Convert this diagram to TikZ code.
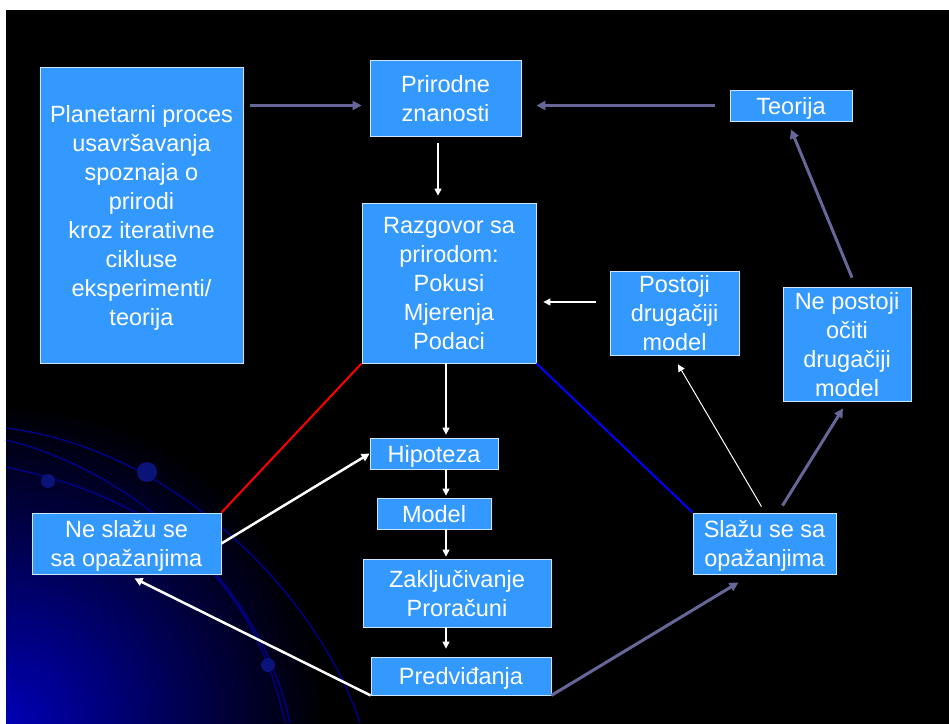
\documentclass[tikz,border=0pt]{standalone}
\usepackage{fontspec}
\setmainfont{Liberation Sans}
\usetikzlibrary{calc, arrows.meta}

\definecolor{boxblue}{RGB}{51,153,255}
\definecolor{arrowgrey}{RGB}{102,102,153}
\definecolor{orbitblue}{RGB}{0,0,130}
\definecolor{dotblue}{RGB}{10,20,120}

\begin{document}
\begin{tikzpicture}[x=1pt, y=-1pt,
   box/.style = {draw=white!75!boxblue, line width=0.8pt, fill=boxblue, text=white,
      align=center, inner sep=0pt, text depth=0pt, font=\fontsize{23.5}{29}\selectfont},
   gflow/.style = {arrowgrey, line width=3pt, -{Triangle[length=9pt, width=9pt]}},
   wflow/.style = {white, line width=1.3pt, -{Triangle[length=7pt, width=7pt]}},
   wthick/.style = {white, line width=2.5pt, -{Triangle[length=8pt, width=8pt]}},
   orbit/.style = {orbitblue, line width=1.5pt}]

   \useasboundingbox (0,0) rectangle (949,723);
   \fill[black] (6,10) rectangle (960,735);
   \begin{scope}
      \clip (6,10) rectangle (960,735);
      \shade[inner color={rgb,255:red,0;green,0;blue,180}, outer color=black] (6,723) circle (320);
   \end{scope}
   \draw[orbit] (6,428) .. controls (180,450) and (320,600) .. (360,723);
   \draw[orbit] (6,440) .. controls (130,470) and (260,580) .. (290,723);
   \draw[orbit] (6,467) .. controls (140,495) and (250,560) .. (285,723);
   \fill[dotblue] (147,472) circle (10);
   \fill[dotblue] (48,481) circle (7);
   \fill[dotblue] (268,665) circle (7);

   \node[box, minimum width=203pt, minimum height=296pt] (plan) at (141.5,215)
      {Planetarni proces\\usavršavanja\\spoznaja o\\prirodi\\kroz iterativne\\cikluse\\eksperimenti/\\teorija};
   \node[box, minimum width=151pt, minimum height=76pt] (prir) at (445.5,98) {Prirodne\\znanosti};
   \node[box, minimum width=122pt, minimum height=31pt] (teor) at (791,105.5) {Teorija};
   \node[box, minimum width=174pt, minimum height=160pt] (razg) at (449,283)
      {Razgovor sa\\prirodom:\\Pokusi\\Mjerenja\\Podaci};
   \node[box, minimum width=129pt, minimum height=84pt] (post) at (674.5,313) {Postoji\\drugačiji\\model};
   \node[box, minimum width=128pt, minimum height=114pt] (nepost) at (847,344) {Ne postoji\\očiti\\drugačiji\\model};
   \node[box, minimum width=143pt, minimum height=61pt] (slazu) at (764.5,543.5) {Slažu se sa\\opažanjima};
   \node[box, minimum width=189pt, minimum height=61pt] (neslazu) at (126.5,543.5) {Ne slažu se\\sa opažanjima};
   \node[box, minimum width=128pt, minimum height=31pt] (hip) at (434,453.5) {Hipoteza};
   \node[box, minimum width=114pt, minimum height=31pt] (model) at (434,513.5) {Model};
   \node[box, minimum width=188pt, minimum height=68pt] (zakl) at (457,593) {Zaključivanje\\Proračuni};
   \node[box, minimum width=180pt, minimum height=38pt] (pred) at (461,676) {Predviđanja};

   \coordinate (colp) at (438,0);
   \coordinate (colc) at (446,0);
   \coordinate (rowp) at (0,302);

   \draw[gflow, shorten <=7pt, shorten >=8pt] (plan.east |- teor.west) -- (prir.west |- teor.west);
   \draw[gflow, shorten <=15pt, shorten >=15pt] (teor.west) -- (prir.east |- teor.west);
   \draw[wflow, shorten <=7pt, shorten >=7pt] (prir.south -| colp) -- (razg.north -| colp);
   \draw[wflow, shorten <=14pt, shorten >=7pt] (post.west |- rowp) -- (razg.east |- rowp);
   \draw[wflow, shorten >=3pt] (razg.south -| colc) -- (hip.north -| colc);
   \draw[wflow, shorten >=2pt] (hip.south -| colc) -- (model.north -| colc);
   \draw[wflow, shorten >=2pt] (model.south -| colc) -- (zakl.north -| colc);
   \draw[wflow, shorten >=8pt] (zakl.south -| colc) -- (pred.north -| colc);

   \draw[red, line width=2pt] (razg.south west) -- (neslazu.north east);
   \draw[blue, line width=2pt] (razg.south east) -- (slazu.north west);

   \draw[wthick] (neslazu.east) -- (hip.west);
   \draw[wthick, shorten >=9pt] (pred.south west) -- (neslazu.south);
   \draw[gflow] (pred.south east) -- ($(slazu.south)+(-26,8)$);
   \draw[gflow] ($(slazu.north)+(18,-7)$) -- ($(nepost.south)+(-4,7)$);
   \draw[wflow, line width=1pt] ($(slazu.north)+(-3,-6)$) -- ($(post.south)+(3.5,9)$);
   \draw[gflow] ($(nepost.north)+(5,-9)$) -- ($(teor.south)+(0,8)$);

\end{tikzpicture}
\end{document}
